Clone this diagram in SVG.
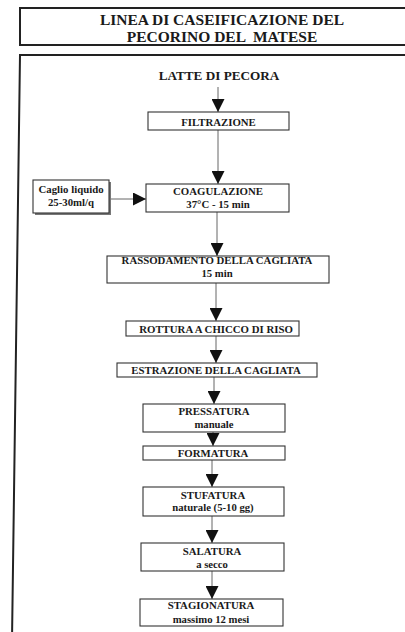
<svg xmlns="http://www.w3.org/2000/svg" width="405" height="632" viewBox="0 0 405 632">
<defs>
<style>
text{font-family:"Liberation Serif","Times New Roman",serif;font-weight:bold;fill:#1a1a1a;text-anchor:middle}
.t{font-size:15.5px}
.h{font-size:13.2px}
.b{font-size:10.8px}
.s{font-size:10.7px}
.box{fill:#fff;stroke:#333;stroke-width:1.1}
.frame{fill:none;stroke:#222;stroke-width:2}
.c{stroke:#666;stroke-width:1;fill:none;marker-end:url(#ah)}
</style>
<marker id="ah" viewBox="0 0 14 14" refX="14" refY="7" markerWidth="14" markerHeight="13" orient="auto" markerUnits="userSpaceOnUse">
<path d="M0,0 L14,7 L0,14 z" fill="#111"/>
</marker>
</defs>
<rect width="405" height="632" fill="#fff"/>
<g id="title">
<path class="frame" d="M410,8 L20,8 L20,45 L410,45"/>
<text class="t" x="222" y="25">LINEA DI CASEIFICAZIONE DEL</text>
<text class="t" x="222" y="42" xml:space="preserve">PECORINO DEL  MATESE</text>
</g>
<g id="frame">
<path class="frame" d="M410,55 L20,55 L12,640"/>
</g>
<g id="connectors">
<line class="c" x1="218" y1="87" x2="218" y2="112"/>
<line class="c" x1="218" y1="130" x2="218" y2="184"/>
<line class="c" x1="109" y1="199" x2="146" y2="199"/>
<line class="c" x1="217" y1="212" x2="217" y2="256"/>
<line class="c" x1="216" y1="283" x2="216" y2="321"/>
<line class="c" x1="216" y1="336" x2="216" y2="363"/>
<line class="c" x1="214" y1="377" x2="214" y2="404"/>
<line class="c" x1="213" y1="432" x2="213" y2="446"/>
<line class="c" x1="212" y1="460" x2="212" y2="487"/>
<line class="c" x1="212" y1="516" x2="212" y2="543"/>
<line class="c" x1="212" y1="571" x2="212" y2="599"/>
</g>
<g id="latte">
<text class="h" x="219" y="80">LATTE DI PECORA</text>
</g>
<g id="filtrazione">
<rect class="box" x="148" y="112" width="141" height="18"/>
<text class="b" x="218.5" y="126">FILTRAZIONE</text>
</g>
<g id="caglio">
<rect x="35" y="182" width="76" height="33" fill="#777"/>
<rect class="box" x="33" y="180" width="76" height="33"/>
<text class="b" x="71" y="192.5">Caglio liquido</text>
<text class="b" x="71" y="205.5">25-30ml/q</text>
</g>
<g id="coagulazione">
<rect class="box" x="146" y="184" width="143" height="28"/>
<text class="b" x="218" y="195">COAGULAZIONE</text>
<text class="b" x="218" y="207.5">37°C - 15 min</text>
</g>
<g id="rassodamento">
<rect class="box" x="107" y="256" width="222" height="27"/>
<text class="b" x="217" y="263.5">RASSODAMENTO DELLA CAGLIATA</text>
<text class="s" x="217" y="276.5">15 min</text>
</g>
<g id="rottura">
<rect class="box" x="126" y="321" width="173" height="15"/>
<text class="b" x="216" y="332.5">ROTTURA A CHICCO DI RISO</text>
</g>
<g id="estrazione">
<rect class="box" x="117" y="363" width="200" height="14"/>
<text class="b" x="216" y="373.5">ESTRAZIONE DELLA CAGLIATA</text>
</g>
<g id="pressatura">
<rect class="box" x="143" y="404" width="142" height="28"/>
<text class="b" x="214" y="414.5">PRESSATURA</text>
<text class="s" x="214" y="427.5">manuale</text>
</g>
<g id="formatura">
<rect class="box" x="143" y="446" width="142" height="14"/>
<text class="b" x="213" y="456.5">FORMATURA</text>
</g>
<g id="stufatura">
<rect class="box" x="143" y="487" width="141" height="29"/>
<text class="b" x="213" y="498.5">STUFATURA</text>
<text class="s" x="213" y="511">naturale (5-10 gg)</text>
</g>
<g id="salatura">
<rect class="box" x="141" y="543" width="143" height="28"/>
<text class="b" x="212" y="554.5">SALATURA</text>
<text class="s" x="212" y="567.5">a secco</text>
</g>
<g id="stagionatura">
<rect class="box" x="140" y="599" width="143" height="27"/>
<text class="b" x="211" y="609">STAGIONATURA</text>
<text class="s" x="211" y="622.5">massimo 12 mesi</text>
</g>
</svg>
